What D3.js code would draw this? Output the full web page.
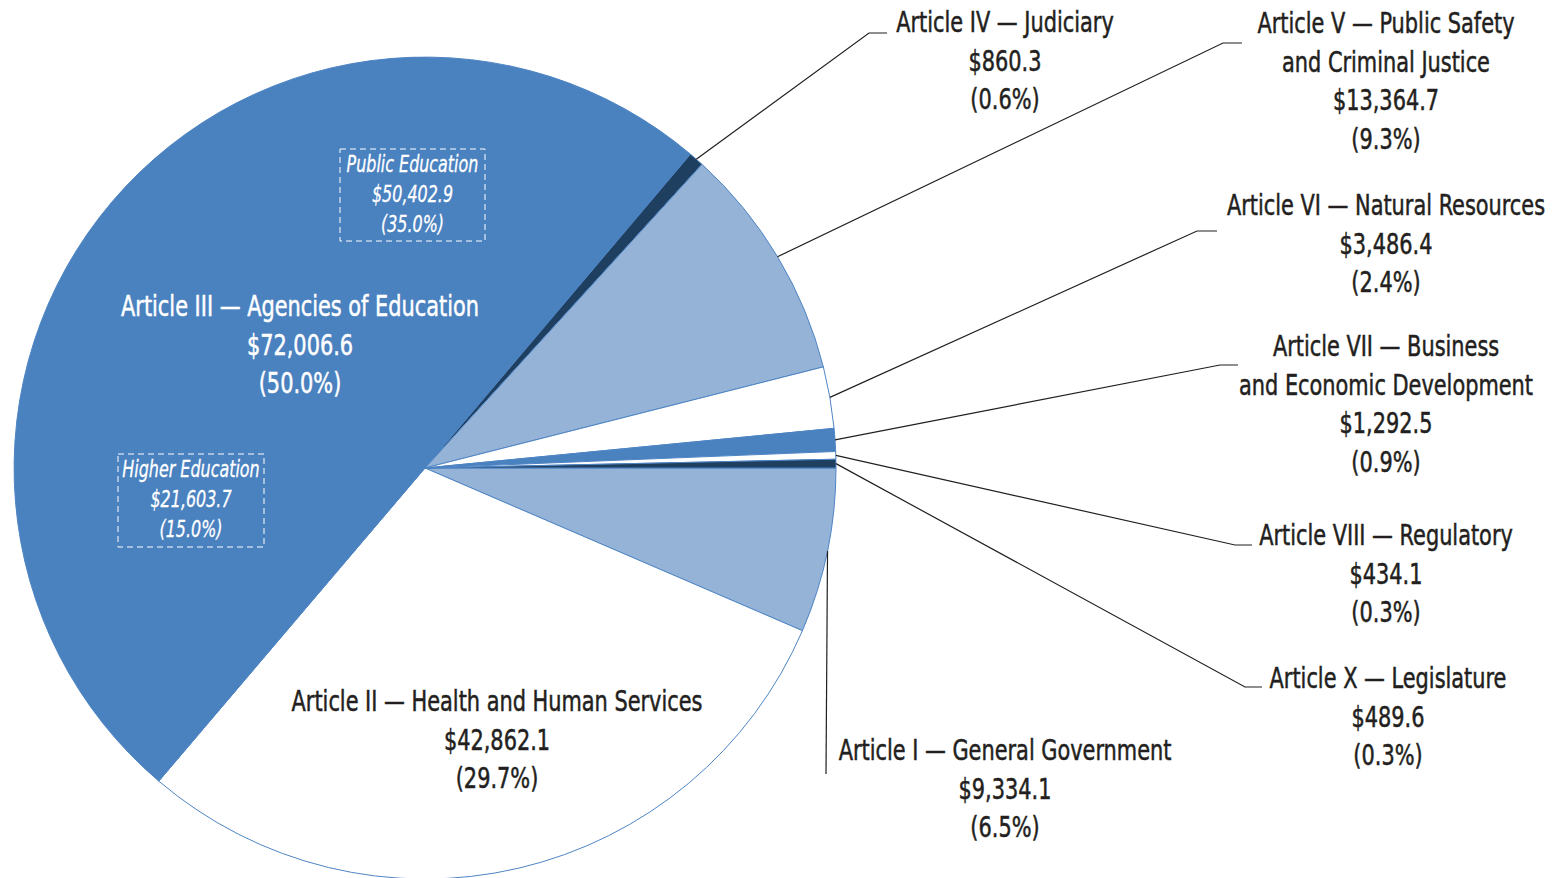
<!DOCTYPE html>
<html>
<head>
<meta charset="utf-8">
<script src="https://cdn.jsdelivr.net/npm/d3@7"></script>
<style>
  body { margin: 0; background: #fff; }
  svg text { font-family: "DejaVu Sans Condensed", "DejaVu Sans", sans-serif; font-stretch: condensed; }
</style>
</head>
<body>
<script>
// Chart data (millions of dollars)
const articleNames = [
  "Article I — General Government",
  "Article II — Health and Human Services",
  "Article III — Agencies of Education",
  "Article IV — Judiciary",
  "Article V — Public Safety\nand Criminal Justice",
  "Article VI — Natural Resources",
  "Article VII — Business\nand Economic Development",
  "Article VIII — Regulatory",
  "Article X — Legislature"
];
const amounts = [9334.1, 42862.1, 72006.6, 860.3, 13364.7, 3486.4, 1292.5, 434.1, 489.6];

const eduNames = ["Public Education", "Higher Education"];
const eduAmounts = [50402.9, 21603.7];

// Styling per slice
const fills = ["#95b3d7", "#ffffff", "#4a81bf", "#1f3f60", "#95b3d7", "#ffffff", "#4a81bf", "#ffffff", "#1f3f60"];

// Label layout: x/y = centre of first text line; elbow = leader bend + end points
const labelLayout = [
  { x: 1005, y: 750, elbow: [[826, 774]] },
  { x: 497, y: 701, inside: true, color: "#231f20" },
  { x: 300, y: 306, inside: true, color: "#ffffff" },
  { x: 1005, y: 22, elbow: [[869, 33], [887, 33]] },
  { x: 1386, y: 23, elbow: [[1223, 43], [1242, 43]] },
  { x: 1386, y: 205, elbow: [[1197, 231], [1217, 231]] },
  { x: 1386, y: 346, elbow: [[1220, 365], [1238, 365]] },
  { x: 1386, y: 535, elbow: [[1235, 545], [1252, 545]] },
  { x: 1388, y: 678, elbow: [[1245, 687], [1262, 687]] }
];
const eduBoxes = [
  { x: 340, y: 149, w: 145, h: 92 },
  { x: 118, y: 454, w: 146, h: 93 }
];

let width = 1562, height = 878;
let cx = 425, cy = 468, radius = 411;
let lineH = 38.5;
let squeeze = 0.8; // no condensed face installed, so narrow the glyphs

let total = d3.sum(amounts);
let money = d3.format("$,.1f");
let pct = v => "(" + d3.format(".1f")(v / total * 100) + "%)";

let svg = d3.select("body").append("svg")
  .attr("width", width)
  .attr("height", height);

let g = svg.append("g")
  .attr("transform", "translate(" + cx + "," + cy + ")");

// pie starts at 3 o'clock and runs clockwise
let pie = d3.pie()
  .sort(null)
  .startAngle(Math.PI / 2)
  .endAngle(Math.PI / 2 + 2 * Math.PI);

let arc = d3.arc()
  .innerRadius(0)
  .outerRadius(radius);

let arcs = pie(amounts);

g.selectAll("path.slice")
  .data(arcs)
  .enter().append("path")
  .attr("class", "slice")
  .attr("d", arc)
  .attr("fill", (d, i) => fills[i])
  .attr("stroke", "#4f85c4")
  .attr("stroke-width", 1);

// leader lines
arcs.forEach(function(d, i) {
  let lay = labelLayout[i];
  if (lay.inside) return;
  let mid = (d.startAngle + d.endAngle) / 2;
  let start = [cx + radius * Math.sin(mid), cy - radius * Math.cos(mid)];
  let pts = [start].concat(lay.elbow);
  svg.append("path")
    .attr("d", d3.line()(pts))
    .attr("fill", "none")
    .attr("stroke", "#231f20")
    .attr("stroke-width", 1.2);
});

function block(x, y, lines, size, sx, step, color, italic) {
  let t = svg.append("g")
    .attr("transform", "translate(" + x + "," + y + ") scale(" + sx + ",1)")
    .append("text")
    .attr("text-anchor", "middle")
    .attr("fill", color)
    .attr("stroke", color)
    .attr("stroke-width", italic ? 0.3 : 0.5)
    .style("font-size", size + "px")
    .style("font-style", italic ? "italic" : "normal");
  lines.forEach(function(l, k) {
    t.append("tspan")
      .attr("x", 0)
      .attr("y", k * step)
      .attr("dy", "0.36em")
      .text(l);
  });
}

// labels
arcs.forEach(function(d, i) {
  let lay = labelLayout[i];
  let lines = articleNames[i].split("\n").concat([money(amounts[i]), pct(amounts[i])]);
  block(lay.x, lay.y, lines, 29, squeeze, lineH, lay.color || "#231f20", false);
});

// education sub-boxes inside Article III
eduBoxes.forEach(function(b, i) {
  svg.append("rect")
    .attr("x", b.x).attr("y", b.y)
    .attr("width", b.w).attr("height", b.h)
    .attr("fill", "none")
    .attr("stroke", "#ffffff")
    .attr("stroke-width", 1)
    .attr("stroke-dasharray", "6,4");
  let lines = [eduNames[i], money(eduAmounts[i]), pct(eduAmounts[i])];
  block(b.x + b.w / 2, b.y + 15, lines, 23, 0.77, 30, "#ffffff", true);
});
</script>
</body>
</html>
